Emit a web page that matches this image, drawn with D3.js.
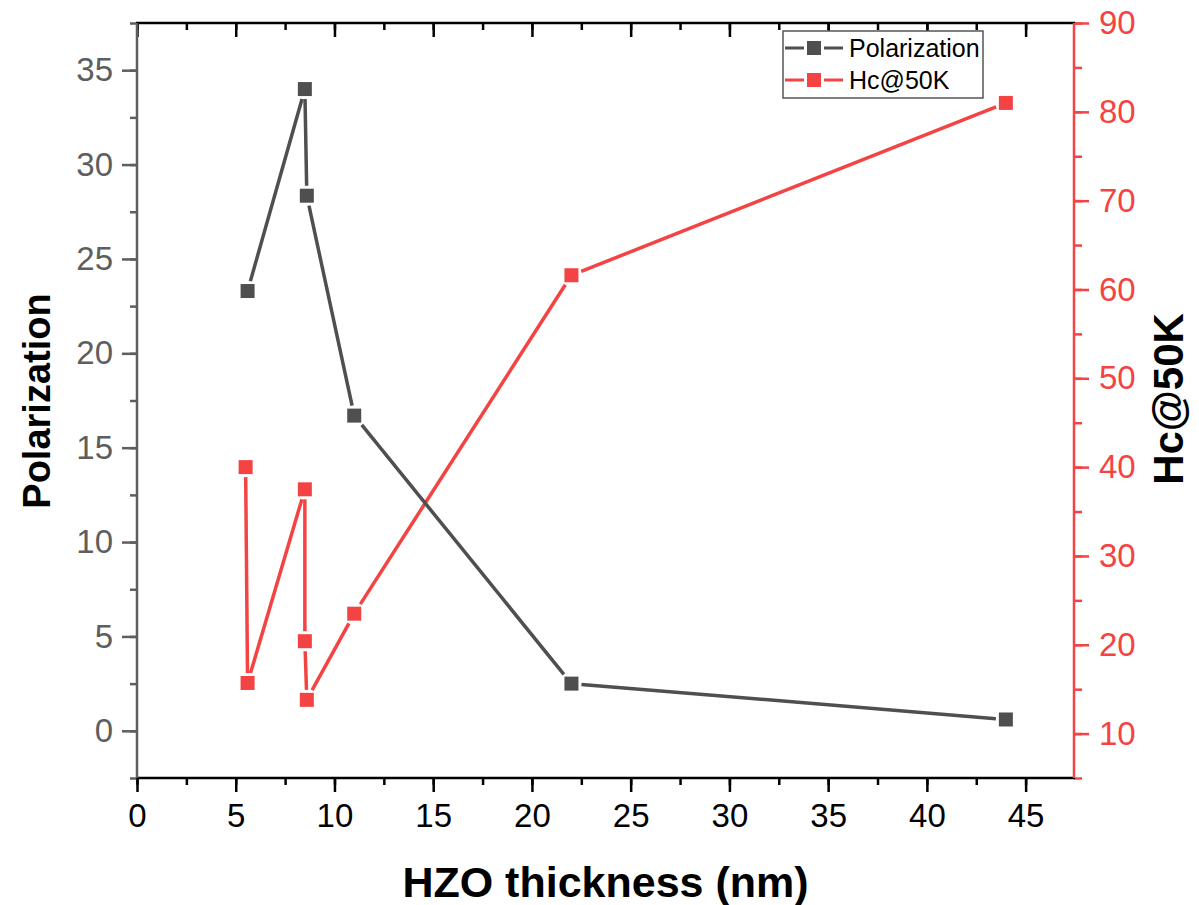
<!DOCTYPE html>
<html>
<head>
<meta charset="utf-8">
<script src="https://cdn.jsdelivr.net/npm/d3@7"></script>
<style>
  body { margin: 0; background: #fff; }
  text { font-family: "Liberation Sans", Arial, sans-serif; }
</style>
</head>
<body>
<div id="chart"></div>
<script>
// data
var polX = [5.6, 8.5, 8.6, 11, 22, 44];
var polY = [23.3, 34.0, 28.35, 16.7, 2.5, 0.6];
var hcX = [5.5, 5.6, 8.5, 8.5, 8.6, 11, 22, 44];
var hcY = [40.0, 15.7, 37.5, 20.4, 13.8, 23.5, 61.6, 81.0];
var xTicks = [0, 5, 10, 15, 20, 25, 30, 35, 40, 45];
var leftTicks = [0, 5, 10, 15, 20, 25, 30, 35];
var rightTicks = [10, 20, 30, 40, 50, 60, 70, 80, 90];

(function () {
var width = 1199, height = 905;
var pLeft = 137, pRight = 1074, pTop = 23, pBottom = 778;
var grey = "#4f4f4f", red = "#f44343", axisGrey = "#5e5e5e";
var fs = 33;

var svg = d3.select("#chart").append("svg")
  .attr("width", width).attr("height", height);

var x = d3.scaleLinear().domain([0, 47.45]).range([pLeft, pRight]);
var yL = d3.scaleLinear().domain([-2.5, 37.5]).range([pBottom, pTop]);
var yR = d3.scaleLinear().domain([5, 90]).range([pBottom, pTop]);

var xMinor = d3.range(0, 47.5, 2.5);
var lMinor = d3.range(-2.5, 37.6, 2.5);
var rMinor = d3.range(5, 90.1, 5);

function styleAxis(g, color, size) {
  g.select(".domain").remove();
  g.selectAll("line").attr("stroke", color).attr("stroke-width", 2.5);
  g.selectAll("text").attr("fill", color).style("font-size", size + "px");
}

// minor ticks first, then major ticks with labels
var gx = svg.append("g").attr("transform", "translate(0," + pBottom + ")");
gx.append("g").call(d3.axisBottom(x).tickValues(xMinor).tickSize(7).tickFormat(""))
  .call(styleAxis, "#000", fs);
gx.append("g").call(d3.axisBottom(x).tickValues(xTicks).tickSize(14).tickPadding(12))
  .call(styleAxis, "#000", fs);

var gt = svg.append("g").attr("transform", "translate(0," + pTop + ")");
gt.append("g").call(d3.axisBottom(x).tickValues(xMinor).tickSize(7).tickFormat(""))
  .call(styleAxis, "#000", fs);
gt.append("g").call(d3.axisBottom(x).tickValues(xTicks).tickSize(14).tickFormat(""))
  .call(styleAxis, "#000", fs);

var gl = svg.append("g").attr("transform", "translate(" + pLeft + ",0)");
gl.append("g").call(d3.axisLeft(yL).tickValues(lMinor).tickSize(7).tickFormat(""))
  .call(styleAxis, axisGrey, fs);
gl.append("g").call(d3.axisLeft(yL).tickValues(leftTicks).tickSize(15).tickPadding(9))
  .call(styleAxis, axisGrey, fs);

var gr = svg.append("g").attr("transform", "translate(" + pRight + ",0)");
gr.append("g").call(d3.axisRight(yR).tickValues(rMinor).tickSize(8).tickFormat(""))
  .call(styleAxis, red, fs);
gr.append("g").call(d3.axisRight(yR).tickValues(rightTicks).tickSize(15).tickPadding(10))
  .call(styleAxis, red, fs);

// frame lines
svg.append("line").attr("x1", pLeft - 1).attr("x2", pRight + 1).attr("y1", pTop).attr("y2", pTop)
  .attr("stroke", "#000").attr("stroke-width", 2.5);
svg.append("line").attr("x1", pLeft - 1).attr("x2", pRight + 1).attr("y1", pBottom).attr("y2", pBottom)
  .attr("stroke", "#000").attr("stroke-width", 2.5);
svg.append("line").attr("x1", pLeft).attr("x2", pLeft).attr("y1", pTop).attr("y2", pBottom)
  .attr("stroke", axisGrey).attr("stroke-width", 2.5);
svg.append("line").attr("x1", pRight).attr("x2", pRight).attr("y1", pTop).attr("y2", pBottom)
  .attr("stroke", red).attr("stroke-width", 2.5);

// series: segments stop short of the square markers
var msize = 14, gap = 3;
function clip(dx, dy) {
  var len = Math.hypot(dx, dy);
  var c = Math.max(Math.abs(dx), Math.abs(dy)) / len;
  return msize / 2 / c + gap;
}
function drawSeries(xs, ys, yScale, color) {
  var pts = xs.map(function(v, i) { return [x(v), yScale(ys[i])]; });
  var segs = d3.pairs(pts).map(function(p) {
    var dx = p[1][0] - p[0][0], dy = p[1][1] - p[0][1];
    var len = Math.hypot(dx, dy), d = clip(dx, dy);
    if (len <= 2 * d) return null;
    var ux = dx / len, uy = dy / len;
    return [[p[0][0] + ux * d, p[0][1] + uy * d], [p[1][0] - ux * d, p[1][1] - uy * d]];
  }).filter(Boolean);
  svg.append("g").selectAll("line").data(segs).join("line")
    .attr("x1", function(s) { return s[0][0]; }).attr("y1", function(s) { return s[0][1]; })
    .attr("x2", function(s) { return s[1][0]; }).attr("y2", function(s) { return s[1][1]; })
    .attr("stroke", color).attr("stroke-width", 3.5);
  svg.append("g").selectAll("rect").data(pts).join("rect")
    .attr("x", function(p) { return p[0] - msize / 2; })
    .attr("y", function(p) { return p[1] - msize / 2; })
    .attr("width", msize).attr("height", msize)
    .attr("fill", color);
}
drawSeries(hcX, hcY, yR, red);
drawSeries(polX, polY, yL, grey);

// axis titles
svg.append("text").attr("x", (pLeft + pRight) / 2).attr("y", 897)
  .attr("text-anchor", "middle").style("font-size", "43px").style("font-weight", "bold")
  .text("HZO thickness (nm)");
svg.append("text").attr("transform", "translate(50,401) rotate(-90)")
  .attr("text-anchor", "middle").style("font-size", "38px").style("font-weight", "bold")
  .text("Polarization");
svg.append("text").attr("transform", "translate(1183,399) rotate(-90)")
  .attr("text-anchor", "middle").style("font-size", "42px").style("font-weight", "bold")
  .text("Hc@50K");

// legend
var lg = svg.append("g");
lg.append("rect").attr("x", 783).attr("y", 31).attr("width", 200).attr("height", 67)
  .attr("fill", "#fff").attr("stroke", "#555").attr("stroke-width", 1.5);
var legendItems = [["Polarization", grey, 48], ["Hc@50K", red, 80]];
legendItems.forEach(function(d) {
  lg.append("line").attr("x1", 785).attr("x2", 804).attr("y1", d[2]).attr("y2", d[2])
    .attr("stroke", d[1]).attr("stroke-width", 3);
  lg.append("line").attr("x1", 824).attr("x2", 843).attr("y1", d[2]).attr("y2", d[2])
    .attr("stroke", d[1]).attr("stroke-width", 3);
  lg.append("rect").attr("x", 814 - 7).attr("y", d[2] - 7).attr("width", 14).attr("height", 14)
    .attr("fill", d[1]);
  lg.append("text").attr("x", 849).attr("y", d[2] + 9).style("font-size", "25px")
    .attr("fill", "#000").text(d[0]);
});
})();
</script>
</body>
</html>
